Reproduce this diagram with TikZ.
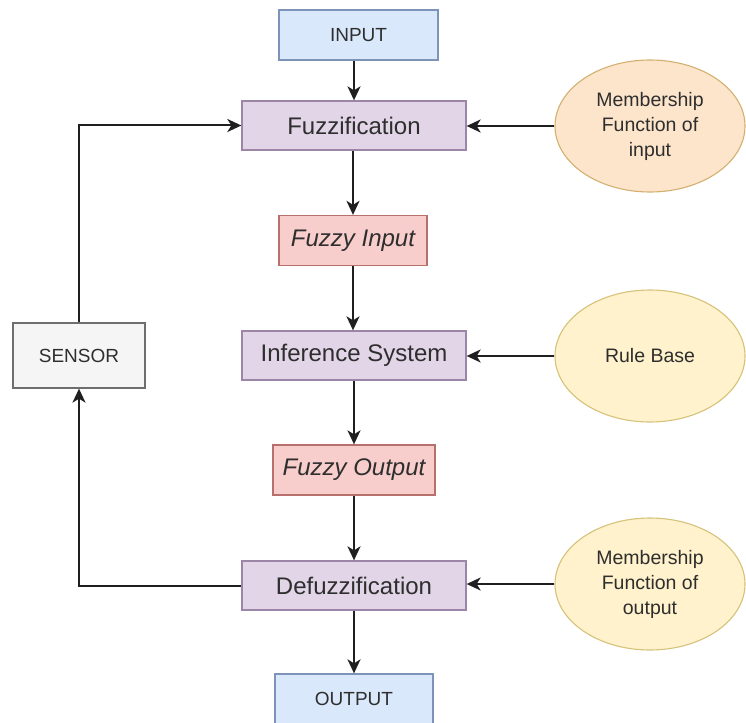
\documentclass[tikz,border=0pt]{standalone}
\usepackage{fontspec}
\setmainfont{Liberation Sans}
\usetikzlibrary{arrows.meta,shapes.geometric}

\definecolor{blueFill}{HTML}{DAE8FC}
\definecolor{blueLine}{HTML}{7D94B8}
\definecolor{purpFill}{HTML}{E1D5E7}
\definecolor{purpLine}{HTML}{9B86A8}
\definecolor{redFill}{HTML}{F8CECC}
\definecolor{redLine}{HTML}{B8706C}
\definecolor{greyFill}{HTML}{F5F5F5}
\definecolor{greyLine}{HTML}{6E6E6E}
\definecolor{peachFill}{HTML}{FDE5CC}
\definecolor{peachLine}{HTML}{D4B070}
\definecolor{yellowFill}{HTML}{FFF2CC}
\definecolor{yellowLine}{HTML}{D6C27A}
\definecolor{txt}{HTML}{2E2E2E}

\tikzset{
  box/.style={rectangle, draw, line width=1.3pt, inner sep=0pt, text=txt},
  endbox/.style={box, fill=blueFill, draw=blueLine, minimum width=158pt, minimum height=50pt, font=\fontsize{19}{22}\selectfont},
  stagebox/.style={box, fill=purpFill, draw=purpLine, minimum width=224pt, minimum height=49pt, font=\fontsize{24}{28}\selectfont},
  fuzzybox/.style={box, fill=redFill, draw=redLine, minimum height=50pt, font=\fontsize{24}{28}\selectfont\itshape},
  sensorbox/.style={box, fill=greyFill, draw=greyLine, minimum width=132pt, minimum height=65pt, font=\fontsize{19}{22}\selectfont},
  knowledge/.style={ellipse, draw, line width=1.1pt, inner sep=0pt, minimum width=190pt, minimum height=132pt, text=txt, align=center, font=\fontsize{19.5}{25}\selectfont},
  arr/.style={line width=2pt, draw=black!88, -{Stealth[length=14pt,width=13pt,inset=4pt]}}
}

\begin{document}
\begin{tikzpicture}[x=1pt,y=-1pt]
  \useasboundingbox (0,0) rectangle (746,722);
  \fill[white] (0,0) rectangle (746,722);

  % main chain
  \node[endbox, minimum width=159pt] (input) at (358.5,35) {INPUT};
  \node[stagebox] (fuzz) at (354,125.5) {Fuzzification};
  \node[fuzzybox, minimum width=148pt] (fin) at (353,240.5) {Fuzzy Input};
  \node[stagebox] (infer) at (354,355.5) {Inference System};
  \node[fuzzybox, minimum width=162pt] (fout) at (354,470) {Fuzzy Output};
  \node[stagebox] (defuzz) at (354,585.5) {Defuzzification};
  \node[endbox] (output) at (354,699) {OUTPUT};

  % feedback sensor
  \node[sensorbox] (sensor) at (79,355.5) {SENSOR};

  % knowledge sources
  \node[knowledge, fill=peachFill, draw=peachLine] (mfin) at (650,126) {Membership\\Function of\\input};
  \node[knowledge, fill=yellowFill, draw=yellowLine] (rules) at (650,356) {Rule Base};
  \node[knowledge, fill=yellowFill, draw=yellowLine] (mfout) at (650,584) {Membership\\Function of\\output};

  % flow arrows
  \draw[arr] (input.south -| fuzz.north) -- (fuzz.north);
  \draw[arr] (fuzz.south -| fin.north) -- (fin.north);
  \draw[arr] (fin.south) -- (fin.south |- infer.north);
  \draw[arr] (infer.south) -- (infer.south |- fout.north);
  \draw[arr] (fout.south) -- (defuzz.north);
  \draw[arr] (defuzz.south) -- (output.north);

  % inputs from knowledge sources
  \draw[arr] (mfin.west) -- (mfin.west -| fuzz.east);
  \draw[arr] (rules.west) -- (rules.west -| infer.east);
  \draw[arr] (mfout.west) -- (mfout.west -| defuzz.east);

  % feedback loop
  \draw[arr] (defuzz.west) -| (sensor.south);
  \draw[arr] (sensor.north) |- (fuzz.west);
\end{tikzpicture}
\end{document}
